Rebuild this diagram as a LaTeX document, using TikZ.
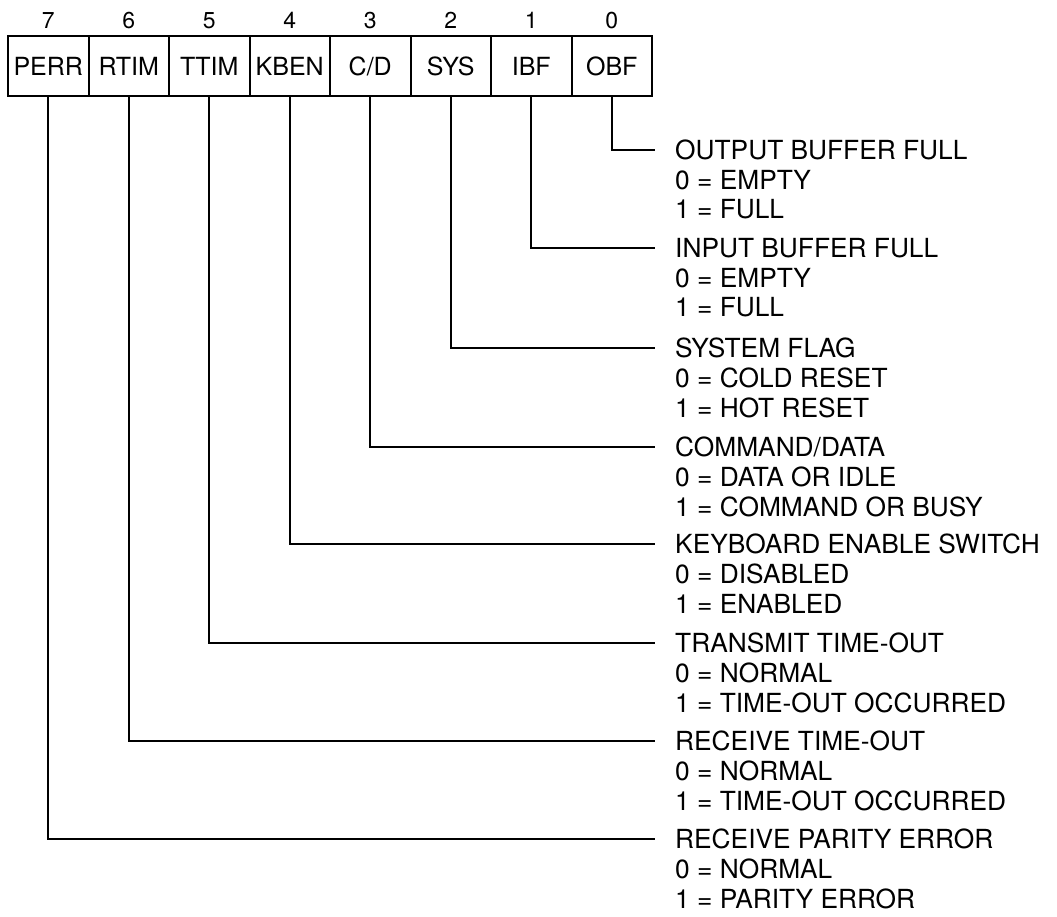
\documentclass[tikz,border=0pt]{standalone}
\usepackage{fontspec}
\setmainfont{TeX Gyre Heros}
\usetikzlibrary{positioning}

\begin{document}
\begin{tikzpicture}[x=1pt,y=-1pt,
      node distance=0pt,
      cell/.style={draw,line width=2pt,minimum width=80.5pt,minimum height=60pt,
        inner sep=0pt,outer sep=0pt,font=\fontsize{25}{30}\selectfont},
      bitnum/.style={inner sep=0pt,text height=16pt,text depth=0pt,
        font=\fontsize{23}{26}\selectfont},
      title/.style={inner sep=0pt,text height=18.8pt,text depth=0pt,
        font=\fontsize{26.3}{29.5}\selectfont},
      values/.style={inner sep=0pt,align=left,font=\fontsize{26.3}{29.5}\selectfont},
      wire/.style={line width=2pt,shorten >=20pt}
    ]
      \useasboundingbox (0,0) rectangle (1057,916);
      % status register
      \node[cell,anchor=north west] (perr) at (8,36) {PERR};
      \node[cell,right=of perr] (rtim) {RTIM};
      \node[cell,right=of rtim] (ttim) {TTIM};
      \node[cell,right=of ttim] (kben) {KBEN};
      \node[cell,right=of kben] (cd) {C/D};
      \node[cell,right=of cd] (sys) {SYS};
      \node[cell,right=of sys] (ibf) {IBF};
      \node[cell,right=of ibf] (obf) {OBF};
      \node[bitnum,above=7pt of perr] (b7) {7};
      \node[bitnum,above=7pt of rtim] (b6) {6};
      \node[bitnum,above=7pt of ttim] (b5) {5};
      \node[bitnum,above=7pt of kben] (b4) {4};
      \node[bitnum,above=7pt of cd] (b3) {3};
      \node[bitnum,above=7pt of sys] (b2) {2};
      \node[bitnum,above=7pt of ibf] (b1) {1};
      \node[bitnum,above=7pt of obf] (b0) {0};
      % bit descriptions
      \node[title,anchor=west] (obf-t) at (675,150) {OUTPUT BUFFER FULL};
      \node[values,below=10.5pt of obf-t.south west,anchor=north west] (obf-v) {0 = EMPTY\\1 = FULL};
      \node[title,anchor=west] (ibf-t) at (675,248) {INPUT BUFFER FULL};
      \node[values,below=10.5pt of ibf-t.south west,anchor=north west] (ibf-v) {0 = EMPTY\\1 = FULL};
      \node[title,anchor=west] (sys-t) at (675,348) {SYSTEM FLAG};
      \node[values,below=10.5pt of sys-t.south west,anchor=north west] (sys-v) {0 = COLD RESET\\1 = HOT RESET};
      \node[title,anchor=west] (cd-t) at (675,447) {COMMAND/DATA};
      \node[values,below=10.5pt of cd-t.south west,anchor=north west] (cd-v) {0 = DATA OR IDLE\\1 = COMMAND OR BUSY};
      \node[title,anchor=west] (kben-t) at (675,544) {KEYBOARD ENABLE SWITCH};
      \node[values,below=10.5pt of kben-t.south west,anchor=north west] (kben-v) {0 = DISABLED\\1 = ENABLED};
      \node[title,anchor=west] (ttim-t) at (675,643) {TRANSMIT TIME-OUT};
      \node[values,below=10.5pt of ttim-t.south west,anchor=north west] (ttim-v) {0 = NORMAL\\1 = TIME-OUT OCCURRED};
      \node[title,anchor=west] (rtim-t) at (675,741) {RECEIVE TIME-OUT};
      \node[values,below=10.5pt of rtim-t.south west,anchor=north west] (rtim-v) {0 = NORMAL\\1 = TIME-OUT OCCURRED};
      \node[title,anchor=west] (perr-t) at (675,839) {RECEIVE PARITY ERROR};
      \node[values,below=10.5pt of perr-t.south west,anchor=north west] (perr-v) {0 = NORMAL\\1 = PARITY ERROR};
      % leader lines
      \draw[wire] (obf.south) |- (obf-t.west);
      \draw[wire] (ibf.south) |- (ibf-t.west);
      \draw[wire] (sys.south) |- (sys-t.west);
      \draw[wire] (cd.south) |- (cd-t.west);
      \draw[wire] (kben.south) |- (kben-t.west);
      \draw[wire] (ttim.south) |- (ttim-t.west);
      \draw[wire] (rtim.south) |- (rtim-t.west);
      \draw[wire] (perr.south) |- (perr-t.west);
    \end{tikzpicture}
\end{document}
